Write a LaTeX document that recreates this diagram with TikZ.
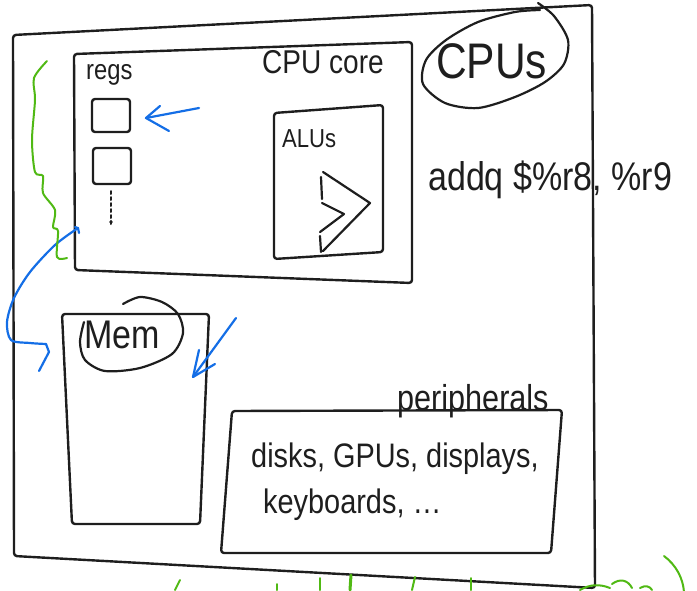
\documentclass[tikz,border=0pt]{standalone}
\usepackage{fontspec}
\setmainfont{Liberation Sans}
\usepackage{graphicx}
\definecolor{inkblue}{RGB}{20,110,230}
\definecolor{inkgreen}{RGB}{80,185,20}
\definecolor{ink}{RGB}{30,30,30}
\newcommand{\hwtext}[1]{\scalebox{0.85}[1]{#1}}
\begin{document}
\begin{tikzpicture}[x=1pt,y=-1pt,
  box/.style={draw=ink,line width=2.4pt,rounded corners=3pt,line join=round},
  blueink/.style={draw=inkblue,line width=2.2pt,line cap=round,line join=round},
  greenink/.style={draw=inkgreen,line width=2pt,line cap=round,line join=round},
  blackink/.style={draw=ink,line width=2.2pt,line cap=round,line join=round},
  hand/.style={inner sep=0pt,anchor=base west,text=ink}]
\useasboundingbox (0,0) rectangle (697,590);

% outer machine box
\draw[box] (13,35) -- (592,5) -- (595,588) -- (14,556) -- cycle;

% CPU core box
\draw[box] (74,54) -- (412,42) -- (412,283) -- (75,270) -- cycle;
\node[hand,font=\fontsize{33}{33}\selectfont] (cpucore) at (262,73) {\hwtext{CPU core}};

% registers
\node[hand,font=\fontsize{28}{28}\selectfont] (regs) at (86,79) {\hwtext{regs}};
\draw[box] (92,99) rectangle (130,132);
\draw[box] (93,148) rectangle (131,184);
\coordinate (reg1) at (146,118);
\draw[blackink,line width=2pt,dash pattern=on 3pt off 3pt] (111,191) -- (111,224);
\fill[ink] (111,222) circle (1.8pt);

% ALUs box
\draw[box] (274,113) -- (383,105) -- (383,252) -- (274,259) -- cycle;
\node[hand,font=\fontsize{26}{26}\selectfont] (alus) at (282,147) {\hwtext{ALUs}};
\draw[blackink] (323,172) -- (370,203) -- (323,251);
\draw[blackink] (321,177) -- (322,199);
\draw[blackink] (322,203) -- (344,214) -- (320,232);
\draw[blackink] (320,236) -- (321,252);

% CPUs label with ellipse
\node[hand,font=\fontsize{50}{50}\selectfont] (cpus) at (436,78) {\hwtext{CPUs}};
\draw[blackink] plot[smooth] coordinates {(538,3) (554,16) (568,40) (564,64) (545,82) (515,97) (478,108) (445,103) (423,84) (426,60) (446,40) (478,22) (515,12) (540,10)};

% instruction
\node[hand,font=\fontsize{40}{40}\selectfont] (addq) at (428,190) {\hwtext{addq \$\%r8, \%r9}};

% memory
\draw[box] (62,314) -- (209,314) -- (200,524) -- (72,524) -- cycle;
\node[hand,font=\fontsize{40}{40}\selectfont] (mem) at (84,348) {\hwtext{Mem}};
\draw[blackink] plot[smooth] coordinates {(123,304) (140,297) (162,302) (178,314) (183,333) (172,354) (140,368) (105,371) (85,360) (80,342) (84,322)};

% peripherals
\draw[box] (232,411) -- (562,410) -- (551,553) -- (221,553) -- cycle;
\node[hand,font=\fontsize{36}{36}\selectfont] (periph) at (397,410) {\hwtext{peripherals}};
\node[hand,font=\fontsize{34}{34}\selectfont] (devs1) at (251,467) {\hwtext{disks, GPUs, displays,}};
\node[hand,font=\fontsize{34}{34}\selectfont] (devs2) at (263,513) {\hwtext{keyboards, \dots}};

% blue arrow into register
\coordinate (a1start) at (199,108);
\draw[blueink] (a1start) -- (reg1);
\draw[blueink] (160,106) -- (reg1) -- (169,131);

% blue arrow from CPU core down into Mem
\coordinate (a2start) at (78,228);
\coordinate (memleft) at (46,344);
\draw[blueink] (75,227) -- (a2start) -- (79,233);
\draw[blueink] plot[smooth] coordinates {(a2start) (55,245) (30,272) (14,298) (7,322) (11,340) (30,343) (memleft)};
\draw[blueink] (memleft) -- (49,352) -- (39,371);

% blue arrow into Mem from the right
\coordinate (a3start) at (236,318);
\coordinate (memright) at (193,377);
\draw[blueink] (a3start) -- (memright);
\draw[blueink] (199,350) -- (memright) -- (215,364);

% green brace over CPU core
\draw[greenink] plot[smooth] coordinates {(47,61) (34,78) (35,100) (32,140) (35,172) (43,176) (43,193) (55,210) (53,227) (58,231) (57,257) (67,258)};

% green marks at the bottom (cut-off text)
\draw[greenink] (180,580) -- (175,590);
\draw[greenink] (277,584) -- (277,590);
\draw[greenink] (320,578) -- (320,590);
\draw[greenink,line width=3pt] (351,575) -- (350,590);
\draw[greenink] (415,577) -- (412,590);
\draw[greenink] (471,578) -- (471,590);
\draw[greenink] (580,590) .. controls (590,584) and (600,584) .. (610,588);
\draw[greenink] (612,584) .. controls (620,578) and (628,580) .. (632,588);
\draw[greenink] (640,588) .. controls (645,585) and (650,586) .. (652,590);
\draw[greenink] (664,556) .. controls (676,565) and (683,578) .. (684,592);
\end{tikzpicture}
\end{document}
